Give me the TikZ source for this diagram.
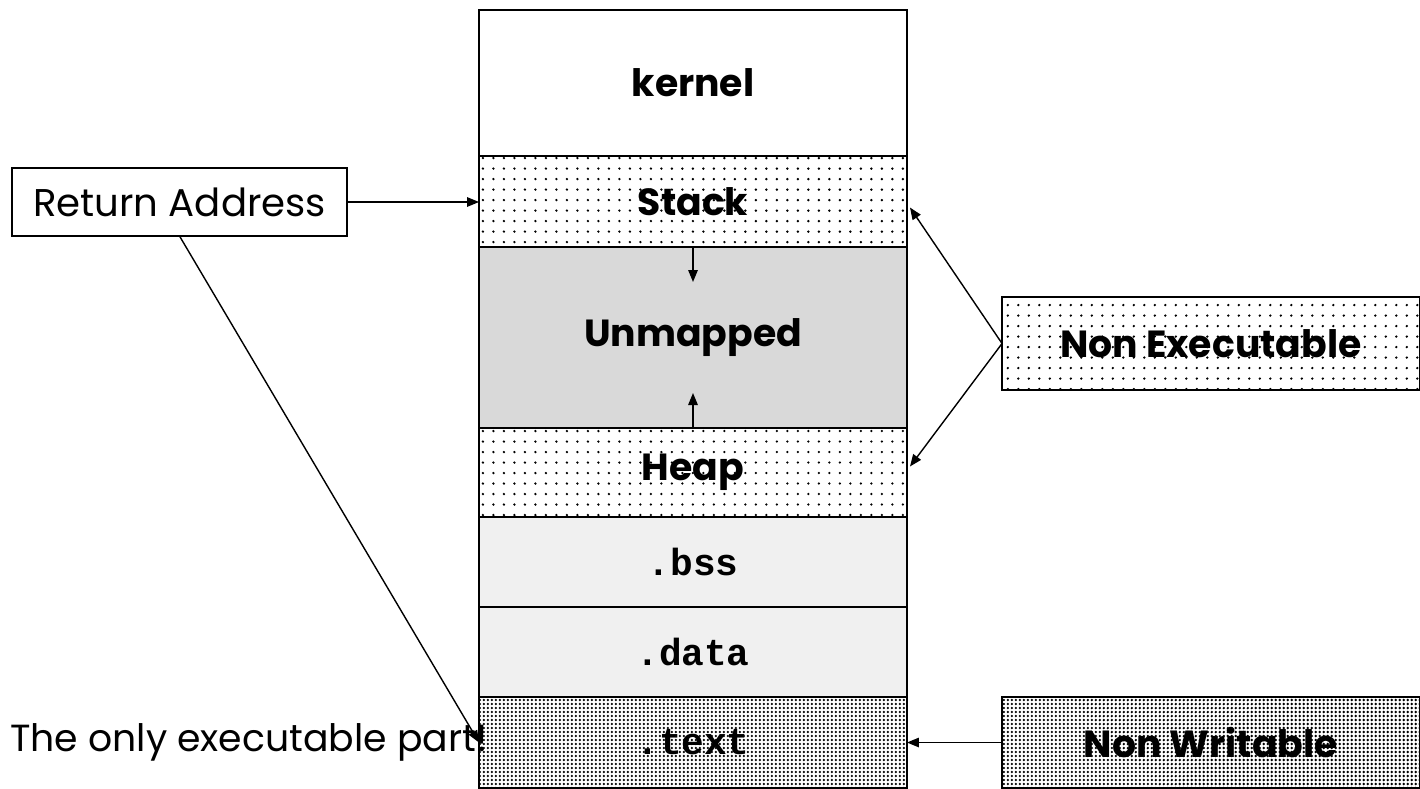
\documentclass[tikz,border=0pt]{standalone}
\usepackage{fontspec}
\setmainfont{Poppins}
\newfontfamily\monob{Liberation Mono}
\usetikzlibrary{patterns.meta,arrows.meta,calc}
\definecolor{unmapgray}{RGB}{217,217,217}
\definecolor{lightgray}{RGB}{240,240,240}
\tikzset{
  boldlabel/.style={font=\fontsize{21.5}{25}\selectfont\bfseries},
  seg/.style={draw, line width=1.1pt, minimum width=8.56cm, inner sep=0pt, outer sep=0pt, boldlabel},
  sparsedots/.style={pattern={Dots[distance=0.21cm, radius=0.026cm]}},
  densedots/.style={pattern={Dots[distance=0.08cm, radius=0.026cm]}},
  monolabel/.style={font=\fontsize{21.5}{25}\selectfont\monob\bfseries},
  plainlabel/.style={font=\fontsize{21.5}{25}\selectfont},
  arr/.style={line width=0.8pt, -{Triangle[length=0.24cm,width=0.19cm]}},
  plainbox/.style={draw, line width=1.1pt, inner sep=0pt, outer sep=0pt},
}
\begin{document}
\begin{tikzpicture}[x=0.02cm,y=-0.02cm]
\useasboundingbox (0,0) rectangle (1420,788);
% memory segments
\node[seg, fill=white, minimum height=2.92cm] (kernel) at (693,83) {kernel};
\node[seg, sparsedots, minimum height=1.82cm] (stack) at (693,201.5) {Stack};
\node[seg, fill=unmapgray, minimum height=3.62cm] (unmapped) at (693,337.5) {Unmapped};
\node[seg, sparsedots, minimum height=1.78cm] (heap) at (693,472.5) {Heap};
\node[seg, fill=lightgray, minimum height=1.80cm, monolabel] (bss) at (693,562) {.bss};
\node[seg, fill=lightgray, minimum height=1.80cm, monolabel] (data) at (693,652) {.data};
\node[seg, densedots, minimum height=1.82cm, monolabel] (text) at (693,742.5) {.text};
% growth arrows
\coordinate (stackgrow) at (693,282);
\coordinate (heapgrow) at (693,393);
\draw[arr] (stack.south) -- (stackgrow);
\draw[arr] (heap.north) -- (heapgrow);
% left side
\node[plainbox, minimum width=6.7cm, minimum height=1.36cm, font=\fontsize{22}{26}\selectfont] (ret) at (179.5,202) {Return Address};
\draw[arr] (ret.east) -- (ret.east -| stack.west);
\draw[arr] (ret.south) -- (text.west);
\node[anchor=west, inner sep=0pt, plainlabel] (only) at (10,742) {The only executable part!};
% right side
\node[plainbox, sparsedots, minimum width=8.36cm, minimum height=1.86cm, boldlabel] (nonexec) at (1211,343.5) {Non Executable};
\node[plainbox, densedots, minimum width=8.36cm, minimum height=1.82cm, boldlabel] (nonwrite) at (1211,742.5) {Non Writable};
\draw[arr] (nonexec.west) -- ($(stack.east)+(3,6)$);
\draw[arr] (nonexec.west) -- ($(heap.east)+(3,-6)$);
\draw[arr] (nonwrite.west) -- (text.east);
\end{tikzpicture}
\end{document}
